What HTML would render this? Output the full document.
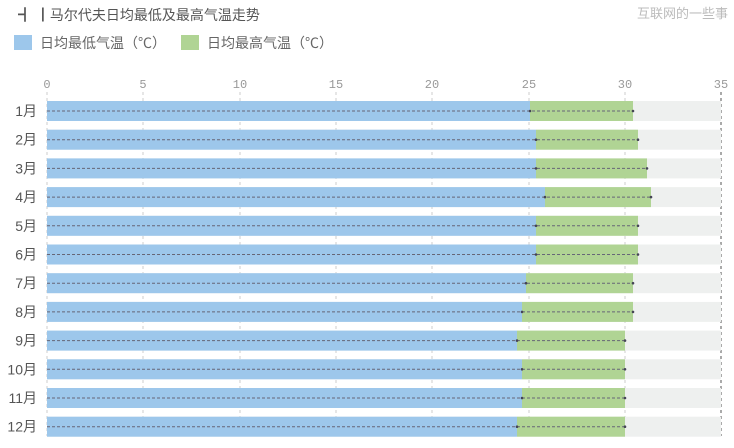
<!DOCTYPE html>
<html><head><meta charset="utf-8"><style>
body{margin:0;background:#fff;width:734px;height:443px;overflow:hidden;font-family:"Liberation Sans","Noto Sans CJK SC",sans-serif}
</style></head><body>
<svg width="734" height="443" xmlns="http://www.w3.org/2000/svg" font-family="Liberation Sans, Noto Sans CJK SC, sans-serif">
<text x="18" y="20" font-size="14" fill="#555">┫ ┃马尔代夫日均最低及最高气温走势</text>
<text x="728" y="18" font-size="13" fill="#bbb" text-anchor="end">互联网的一些事</text>
<rect x="14" y="35" width="18" height="15" fill="#9dc7eb"/>
<text x="40" y="48" font-size="14" fill="#666">日均最低气温（℃）</text>
<rect x="181" y="35" width="18" height="15" fill="#b0d494"/>
<text x="207" y="48" font-size="14" fill="#666">日均最高气温（℃）</text>
<g font-size="12" fill="#999" text-anchor="middle" font-family="Liberation Mono, monospace">
<text x="47" y="88">0</text><text x="143" y="88">5</text><text x="240" y="88">10</text><text x="336" y="88">15</text><text x="432" y="88">20</text><text x="529" y="88">25</text><text x="625" y="88">30</text><text x="721" y="88">35</text>
</g>
<g stroke="#ccc" stroke-dasharray="3,3">
<line x1="47" y1="92" x2="47" y2="436"/><line x1="143" y1="92" x2="143" y2="436"/><line x1="240" y1="92" x2="240" y2="436"/><line x1="336" y1="92" x2="336" y2="436"/><line x1="432" y1="92" x2="432" y2="436"/><line x1="529" y1="92" x2="529" y2="436"/><line x1="625" y1="92" x2="625" y2="436"/>
<line x1="721" y1="92" x2="721" y2="436" stroke="#aaa" stroke-width="2"/>
</g>
<g id="bars"></g>
</svg>
<script>
var lo=[530,536,536,545,536,536,526,522,517,522,522,517],hi=[633,638,647,651,638,638,633,633,625,625,625,625];
var g=document.getElementById('bars'),s='';
for(var i=0;i<12;i++){var c=111+i*28.7,t=c-10;
s+='<rect x="47" y="'+t+'" width="674" height="20" fill="#eef0ef"/>';
s+='<rect x="47" y="'+t+'" width="'+(lo[i]-47)+'" height="20" fill="#9dc7eb"/>';
s+='<rect x="'+lo[i]+'" y="'+t+'" width="'+(hi[i]-lo[i])+'" height="20" fill="#b0d494"/>';
s+='<line x1="47" y1="'+c+'" x2="'+hi[i]+'" y2="'+c+'" stroke="#667" stroke-dasharray="3,2" stroke-width="1"/>';
s+='<circle cx="'+lo[i]+'" cy="'+c+'" r="1.3" fill="#445"/><circle cx="'+hi[i]+'" cy="'+c+'" r="1.3" fill="#445"/>';
s+='<text x="37" y="'+(c+5)+'" font-size="14" fill="#555" text-anchor="end">'+(i+1)+'月</text>';}
g.innerHTML=s;
</script>
</body></html>
